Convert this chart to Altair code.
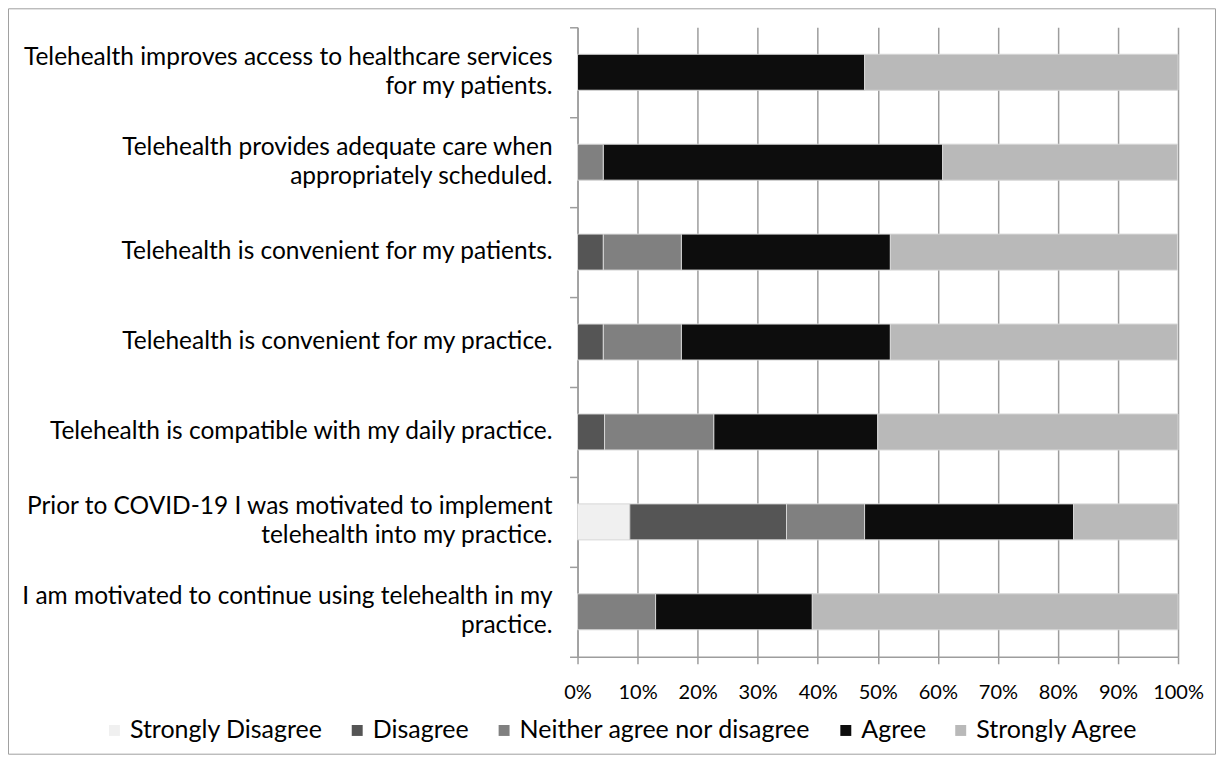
import altair as alt
import pandas as pd

statements = [
    "Telehealth improves access to healthcare services\nfor my patients.",
    "Telehealth provides adequate care when\nappropriately scheduled.",
    "Telehealth is convenient for my patients.",
    "Telehealth is convenient for my practice.",
    "Telehealth is compatible with my daily practice.",
    "Prior to COVID-19 I was motivated to implement\ntelehealth into my practice.",
    "I am motivated to continue using telehealth in my\npractice.",
]
responses = ["Strongly Disagree", "Disagree", "Neither agree nor disagree", "Agree", "Strongly Agree"]

strongly_disagree = [0.0, 0.0, 0.0, 0.0, 0.0, 8.7, 0.0]
disagree = [0.0, 0.0, 4.3, 4.3, 4.5, 26.1, 0.0]
neither = [0.0, 4.3, 13.0, 13.0, 18.2, 13.0, 13.0]
agree = [47.8, 56.5, 34.8, 34.8, 27.3, 34.8, 26.1]
strongly_agree = [52.2, 39.1, 47.8, 47.8, 50.0, 17.4, 60.9]

series = [strongly_disagree, disagree, neither, agree, strongly_agree]
colors = ["#f0f0f0", "#555555", "#808080", "#0d0d0d", "#b9b9b9"]

rows = []
for r, (resp, vals) in enumerate(zip(responses, series)):
    for s, v in zip(statements, vals):
        rows.append({"statement": s, "response": resp, "rank": r, "pct": v / 100.0})
df = pd.DataFrame(rows)
labels_df = pd.DataFrame({"statement": statements})

FONT = "Lato"
GRID = "#9d9d9d"

y_enc = alt.Y(
    "statement:N",
    sort=statements,
    scale=alt.Scale(paddingInner=0, paddingOuter=0),
    axis=alt.Axis(
        title=None,
        labels=False,
        tickBand="extent",
        tickSize=8,
        tickColor=GRID,
        tickWidth=1.5,
        domainColor=GRID,
        domainWidth=1.5,
        grid=False,
    ),
)

bars = alt.Chart(df).mark_bar(
    stroke="#d6d6d6", strokeWidth=1, height=alt.RelativeBandSize(0.4)
).encode(
    y=y_enc,
    x=alt.X(
        "pct:Q",
        stack="zero",
        scale=alt.Scale(domain=[0, 1], nice=False),
        axis=alt.Axis(
            title=None,
            values=[i / 10 for i in range(11)],
            format=".0%",
            labelFont=FONT,
            labelFontSize=20,
            labelColor="#000000",
            labelPadding=19,
            labelOverlap=False,
            labelFlush=False,
            tickSize=7,
            tickColor=GRID,
            tickWidth=1.5,
            domainColor=GRID,
            domainWidth=1.5,
            grid=True,
            gridColor=GRID,
            gridWidth=1.5,
        ),
    ),
    color=alt.Color(
        "response:N",
        sort=responses,
        scale=alt.Scale(domain=responses, range=colors),
        legend=alt.Legend(
            title=None,
            orient="none",
            direction="horizontal",
            legendX=-476,
            legendY=691,
            symbolType="square",
            symbolSize=120,
            symbolStrokeWidth=0,
            labelFont=FONT,
            labelFontSize=25,
            labelColor="#000000",
            labelOffset=3,
            columnPadding=22,
            labelLimit=500,
        ),
    ),
    order=alt.Order("rank:Q"),
)

label_base = alt.Chart(labels_df).transform_calculate(
    multi="indexof(datum.statement, '\\n') >= 0 ? 1 : 0"
)
text_kw = dict(
    align="right",
    baseline="middle",
    font=FONT,
    fontSize=24.5,
    lineBreak="\n",
    lineHeight=29,
    color="#000000",
)
single_labels = label_base.transform_filter("datum.multi == 0").mark_text(**text_kw).encode(
    y=alt.Y("statement:N", sort=statements),
    x=alt.value(-25),
    text="statement:N",
)
multi_labels = label_base.transform_filter("datum.multi == 1").mark_text(dy=-14.5, **text_kw).encode(
    y=alt.Y("statement:N", sort=statements),
    x=alt.value(-25),
    text="statement:N",
)

frame = alt.Chart(alt.Data(values=[{}])).mark_rect(
    fillOpacity=0, stroke="#a0a0a0", strokeWidth=1
).encode(
    x=alt.value(-569.5),
    x2=alt.value(638.5),
    y=alt.value(-18.5),
    y2=alt.value(727.5),
)

chart = alt.layer(frame, bars, single_labels, multi_labels).properties(
    width=601,
    height=630,
    autosize=alt.AutoSizeParams(type="none"),
    padding={"left": 570, "top": 19, "right": 38, "bottom": 98},
).configure_view(stroke=None)

chart.save("out.html", embed_options={"renderer": "svg", "actions": False})
